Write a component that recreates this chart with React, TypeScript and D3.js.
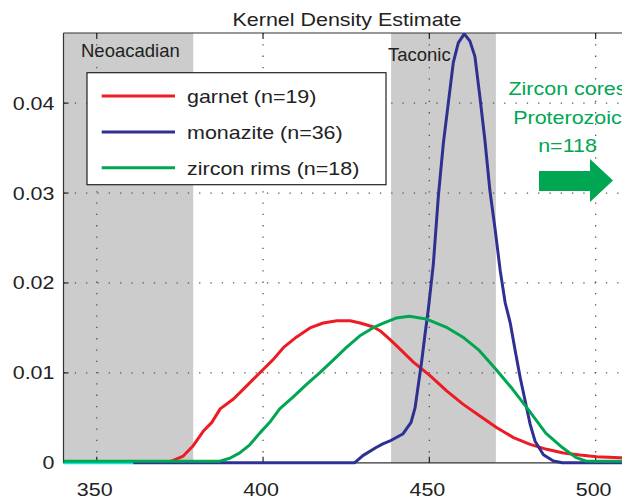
import React from "react";
import * as d3 from "d3";

const W = 622;
const H = 500;

const title = "Kernel Density Estimate";
const xTicks = [350, 400, 450, 500];
const yTicks = [0, 0.01, 0.02, 0.03, 0.04];
const yTickLabels = ["0", "0.01", "0.02", "0.03", "0.04"];

const bands = [
  { name: "Neoacadian", from: 340, to: 379 },
  { name: "Taconic", from: 438.5, to: 470 },
];

const garnetAge = [372, 372.5, 376, 379, 382, 384.6, 387.1, 391.1, 394.1, 397.1, 400.1, 403.1, 406.1, 410.1, 414.1, 418.1, 422.2, 426.2, 429.2, 433.2, 435.5, 438.2, 440.2, 445.2, 450.2, 455.2, 460.2, 465.2, 470.3, 475.3, 480.3, 485.3, 490.3, 495.3, 500.3, 507.3, 512];
const garnetDensity = [0.00018, 0.00018, 0.00075, 0.0019, 0.0035, 0.0045, 0.006, 0.0071, 0.0082, 0.0093, 0.0104, 0.0115, 0.0128, 0.014, 0.015, 0.01555, 0.0158, 0.0158, 0.01555, 0.0151, 0.0146, 0.0137, 0.013, 0.0112, 0.0097, 0.008, 0.0065, 0.0052, 0.0039, 0.0028, 0.00205, 0.0015, 0.0011, 0.00086, 0.00067, 0.00056, 0.0005];

const monaziteAge = [361, 427.5, 430, 434, 436, 438, 442, 444.5, 445.7, 446.7, 447.7, 448.7, 449.7, 451.2, 452.7, 454.2, 455.7, 457.2, 458.7, 460.5, 462.2, 463.7, 465.2, 466.7, 468.2, 469.8, 471.3, 472.8, 474.3, 475.8, 477.3, 478.8, 480.3, 481.8, 484.3, 487.3, 490, 512];
const monaziteDensity = [0, 0, 0.0008, 0.0017, 0.0021, 0.0024, 0.0032, 0.0045, 0.0061, 0.0087, 0.0113, 0.0143, 0.0171, 0.0221, 0.0296, 0.0355, 0.04, 0.0445, 0.0467, 0.0477, 0.0469, 0.0452, 0.0407, 0.0359, 0.0303, 0.0259, 0.0214, 0.0178, 0.0156, 0.0125, 0.0095, 0.0069, 0.0043, 0.0024, 0.0009, 0.0002, 0, 0];

const zirconAge = [340, 387, 390, 393, 396, 399, 402, 405, 409, 413, 417, 421, 425, 429, 433, 436, 440, 444, 449, 455, 460, 465, 470, 475, 480, 485, 490, 494, 497, 500, 512];
const zirconDensity = [0.00018, 0.00018, 0.0005, 0.0011, 0.002, 0.0033, 0.0045, 0.006, 0.0073, 0.0087, 0.01, 0.0114, 0.0128, 0.0141, 0.015, 0.0155, 0.0161, 0.0163, 0.016, 0.0151, 0.014, 0.0125, 0.0104, 0.0082, 0.0058, 0.0033, 0.0017, 0.0006, 0.0002, 0.00018, 0.00018];

const extraAge = [340, 361];
const extraDensity = [0, 0];

const legendLabels = ["garnet (n=19)", "monazite (n=36)", "zircon rims (n=18)"];
const seriesColors = ["#ED1C24", "#2E3192", "#00A651"];
const noteLines = ["Zircon cores", "Proterozoic", "n=118"];

const FONT = "'Liberation Sans', Arial, Helvetica, sans-serif";
const SX = 1.13;

function T({ x, y, size = 19, anchor = "start", fill = "#222", sx = SX, children }: any) {
  return (
    <text
      transform={`translate(${x},${y}) scale(${sx},1)`}
      fontSize={size}
      fontFamily={FONT}
      textAnchor={anchor}
      fill={fill}
    >
      {children}
    </text>
  );
}

export default function App() {
  const x = d3.scaleLinear().domain([340, 510]).range([63.5, 628.9]);
  const y = d3.scaleLinear().domain([0, 0.0478]).range([462.8, 33]);

  const line = (ages: number[], dens: number[]) =>
    d3
      .line<number>()
      .x((_, i) => x(ages[i]))
      .y((d) => y(d))(dens) || "";

  const series = [
    { ages: garnetAge, dens: garnetDensity, color: seriesColors[0] },
    { ages: monaziteAge, dens: monaziteDensity, color: seriesColors[1] },
    { ages: zirconAge, dens: zirconDensity, color: seriesColors[2] },
  ];

  const left = x(340);
  const right = x(510);
  const top = y(0.0478);
  const bottom = y(0);
  const dots = "1.3 10";

  const legendX = 87;
  const legendY = 72.7;
  const legendW = 299;
  const legendH = 112;
  const rowY = [96, 132, 167.7];

  const arrowPath = "M539,171 L590,171 L590,159 L613,180.5 L590,202 L590,191 L539,191 Z";

  return (
    <svg
      width={W}
      height={H}
      style={{ position: "absolute", left: 0, top: 0, background: "#fff" }}
    >
      <defs>
        <clipPath id="plot">
          <rect x={left} y={top} width={right - left} height={bottom - top + 3} />
        </clipPath>
      </defs>
      <rect x={0} y={0} width={W} height={H} fill="#fff" />
      {bands.map((b) => (
        <rect
          key={b.name}
          x={x(b.from)}
          y={top}
          width={x(b.to) - x(b.from)}
          height={bottom - top}
          fill="#CCCCCC"
        />
      ))}
      {/* grid */}
      {xTicks.map((t) => (
        <line key={"gx" + t} x1={x(t)} x2={x(t)} y1={top} y2={bottom} stroke="#555" strokeWidth={1.3} strokeDasharray={dots} />
      ))}
      {yTicks.slice(1).map((t) => (
        <line key={"gy" + t} x1={left} x2={right} y1={y(t)} y2={y(t)} stroke="#555" strokeWidth={1.3} strokeDasharray={dots} />
      ))}
      {/* band labels */}
      <text x={81} y={56.5} fontSize={18.5} fontFamily={FONT} fill="#222">{bands[0].name}</text>
      <text x={388} y={60.5} fontSize={18.5} fontFamily={FONT} fill="#222">{bands[1].name}</text>

      {/* axes box */}
      <line x1={left} x2={right} y1={top} y2={top} stroke="#333" strokeWidth={1.2} />
      <line x1={left} x2={left} y1={top} y2={bottom} stroke="#333" strokeWidth={1.2} />
      <line x1={left} x2={right} y1={bottom} y2={bottom} stroke="#333" strokeWidth={1.2} />
      {xTicks.map((t) => (
        <g key={"tx" + t}>
          <line x1={x(t)} x2={x(t)} y1={bottom} y2={bottom - 6} stroke="#222" strokeWidth={1.2} />
          <line x1={x(t)} x2={x(t)} y1={top} y2={top + 6} stroke="#222" strokeWidth={1.2} />
          <T x={x(t) - 2} y={496} anchor="middle">{String(t)}</T>
        </g>
      ))}
      {yTicks.map((t, i) => (
        <g key={"ty" + t}>
          <line x1={left} x2={left + 5} y1={y(t)} y2={y(t)} stroke="#222" strokeWidth={1.2} />
          <T x={54.5} y={y(t) + 6.5} anchor="end">{yTickLabels[i]}</T>
        </g>
      ))}

      {/* curves */}
      <g clipPath="url(#plot)">
        <path d={line(extraAge, extraDensity)} fill="none" stroke="#00E8E0" strokeWidth={3} />
        {series.map((s, i) => (
          <path key={i} d={line(s.ages, s.dens)} fill="none" stroke={s.color} strokeWidth={3} strokeLinejoin="round" />
        ))}
      </g>

      {/* legend */}
      <rect x={legendX} y={legendY} width={legendW} height={legendH} fill="#fff" stroke="#222" strokeWidth={1.2} />
      {legendLabels.map((lab, i) => (
        <g key={lab}>
          <line x1={101.7} x2={175} y1={rowY[i]} y2={rowY[i]} stroke={seriesColors[i]} strokeWidth={3} />
          <T x={187} y={rowY[i] + 6.8}>{lab}</T>
        </g>
      ))}

      {/* annotation */}
      {noteLines.map((l, i) => (
        <T key={l} x={567.5} y={[95, 124, 152][i]} anchor="middle" fill="#00A651">{l}</T>
      ))}
      <path d={arrowPath} fill="#00A651" />

      {/* title */}
      <T x={347} y={25.5} anchor="middle">{title}</T>
    </svg>
  );
}
